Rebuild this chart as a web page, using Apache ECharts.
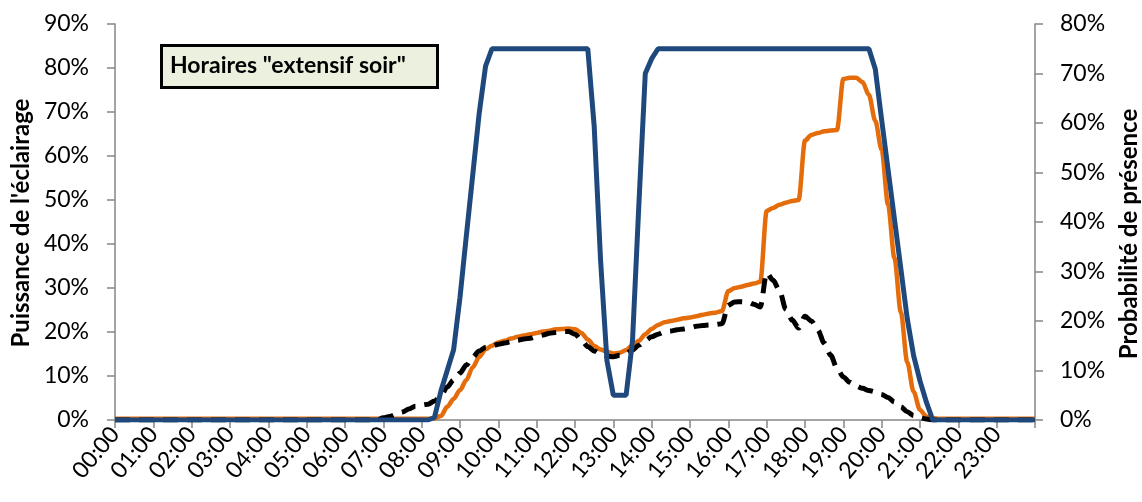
<!DOCTYPE html>
<html>
<head>
<meta charset="utf-8">
<script src="https://cdn.jsdelivr.net/npm/echarts@6/dist/echarts.min.js"></script>
<style>
html,body{margin:0;padding:0;background:#fff;}
#chart{width:1142px;height:502px;}
</style>
</head>
<body>
<div id="chart"></div>
<script>
// Time categories: 10-minute steps from 00:00 to 24:00
const categories = [];
for (let m = 0; m <= 1440; m += 10) {
  const h = Math.floor(m / 60), mm = m % 60;
  categories.push((h < 10 ? '0' : '') + h + ':' + (mm < 10 ? '0' : '') + mm);
}

const titleText = 'Horaires "extensif soir"';
const leftAxisName = "Puissance de l'éclairage";
const rightAxisName = "Probabilité de présence";
const leftTicks = [0, 10, 20, 30, 40, 50, 60, 70, 80, 90];
const rightTicks = [0, 10, 20, 30, 40, 50, 60, 70, 80];

// Lighting power (orange, left axis, %)
const orangeSeries = [
  0.3,0.3,0.3,0.3,0.3,0.3, 0.3,0.3,0.3,0.3,0.3,0.3, 0.3,0.3,0.3,0.3,0.3,0.3, 0.3,0.3,0.3,0.3,0.3,0.3,
  0.3,0.3,0.3,0.3,0.3,0.3, 0.3,0.3,0.3,0.3,0.3,0.3, 0.3,0.3,0.3,0.3,0.3,0.3, 0.3,0.3,0.3,0.3,0.3,0.3,
  0.3,0.3,0.4,0.9,3.0,4.8,
  6.8,9.1,12.0,14.3,16.1,16.9,
  17.6,18.0,18.5,18.9,19.2,19.5,
  19.8,20.1,20.3,20.6,20.7,20.8,
  20.6,19.8,18.3,16.9,16.0,15.5,
  15.1,15.3,15.9,17.0,18.0,19.5,
  20.7,21.6,22.2,22.5,22.8,23.1,
  23.3,23.6,23.9,24.2,24.4,24.8,
  29.3,30.0,30.3,30.7,31.0,31.4,
  47.5,48.2,48.9,49.4,49.8,50.0,
  63.5,64.8,65.2,65.6,65.8,65.9,
  77.5,77.8,77.8,76.8,73.9,68.0,
  61.4,48.9,36.8,24.5,13.2,6.4,
  2.3,0.8,0.4,0.3,0.3,0.3,
  0.3,0.3,0.3,0.3,0.3,0.3,
  0.3,0.3,0.3,0.3,0.3,0.3,
  0.3
];

// Presence probability (blue, right axis, %)
const blueSeries = [
  0,0,0,0,0,0, 0,0,0,0,0,0, 0,0,0,0,0,0, 0,0,0,0,0,0,
  0,0,0,0,0,0, 0,0,0,0,0,0, 0,0,0,0,0,0, 0,0,0,0,0,0,
  0,0,0.5,5.8,10.0,14.2,
  24.8,37.3,49.6,61.9,71.5,75,
  75,75,75,75,75,75,
  75,75,75,75,75,75,
  75,75,75,59.4,32.3,12.0,
  5,5,5,16.0,43.6,70.0,
  73.0,75,75,75,75,75,
  75,75,75,75,75,75,
  75,75,75,75,75,75,
  75,75,75,75,75,75,
  75,75,75,75,75,75,
  75,75,75,75,75,70.9,
  60.6,50.6,40.6,30.6,20.5,13.0,
  7.9,3.6,0,0,0,0,
  0,0,0,0,0,0,
  0,0,0,0,0,0,
  0
];

// Second lighting curve (black dashed, left axis, %)
const blackSeries = [
  0,0,0,0,0,0, 0,0,0,0,0,0, 0,0,0,0,0,0, 0,0,0,0,0,0,
  0,0,0,0,0,0, 0,0,0,0,0,0, 0,0,0,0,0,0,
  0.5,0.8,1.25,1.8,2.5,3.1,
  3.4,3.6,4.3,5.5,7.5,9.1,
  10.7,12.5,14.3,15.7,16.5,16.8,
  17.2,17.5,17.8,18.1,18.4,18.6,
  19.0,19.3,19.7,19.9,20.1,20.1,
  19.5,18.2,16.7,15.7,15.0,14.5,
  14.4,14.7,15.1,15.9,17.0,18.1,
  18.9,19.5,20.0,20.2,20.5,20.7,
  21.0,21.3,21.5,21.6,21.7,21.9,
  26.1,26.8,26.9,26.8,26.3,25.7,
  33.4,31.8,29.5,25.2,22.7,20.9,
  23.6,22.5,20.5,17.5,14.8,11.8,
  9.8,8.6,7.7,7.2,6.7,6.4,
  5.8,5.1,4.1,3.0,1.9,1.0,
  0.5,0.2,0,0,0,0,
  0,0,0,0,0,0,
  0,0,0,0,0,0,
  0
];

const FONT = 'Lato';
const axisGrey = '#868686';

const chart = echarts.init(document.getElementById('chart'), null, {renderer: 'canvas'});
chart.setOption({
  animation: false,
  backgroundColor: '#ffffff',
  grid: {left: 115, right: 107, top: 24, bottom: 82},
  xAxis: {
    type: 'category',
    data: categories,
    boundaryGap: false,
    axisLine: {show: true, lineStyle: {color: axisGrey, width: 1.5}},
    axisTick: {show: true, interval: 5, length: 8, lineStyle: {color: axisGrey, width: 1.5}},
    axisLabel: {
      interval: 5, rotate: 50, margin: 10,
      color: '#000', fontFamily: FONT, fontSize: 23,
      formatter: v => (v === '24:00' ? '' : v)
    },
    splitLine: {show: false}
  },
  yAxis: [
    {
      type: 'value', min: leftTicks[0], max: leftTicks[leftTicks.length - 1], interval: 10,
      position: 'left',
      axisLine: {show: true, lineStyle: {color: axisGrey, width: 1.5}},
      axisTick: {show: true, length: 8, lineStyle: {color: axisGrey, width: 1.5}},
      axisLabel: {margin: 26, color: '#000', fontFamily: FONT, fontSize: 23, formatter: '{value}%'},
      splitLine: {show: false}
    },
    {
      type: 'value', min: rightTicks[0], max: rightTicks[rightTicks.length - 1], interval: 10,
      position: 'right',
      axisLine: {show: true, lineStyle: {color: axisGrey, width: 1.5}},
      axisTick: {show: true, length: 8, lineStyle: {color: axisGrey, width: 1.5}},
      axisLabel: {margin: 25, color: '#000', fontFamily: FONT, fontSize: 23, formatter: '{value}%'},
      splitLine: {show: false}
    }
  ],
  series: [
    {
      name: 'Puissance', type: 'line', yAxisIndex: 0, data: orangeSeries,
      showSymbol: false, smooth: 0.3, smoothMonotone: 'x', z: 2,
      lineStyle: {color: '#E46C0A', width: 4.5}
    },
    {
      name: 'Puissance 2', type: 'line', yAxisIndex: 0, data: blackSeries,
      showSymbol: false, smooth: 0.3, smoothMonotone: 'x', z: 3,
      lineStyle: {color: '#000000', width: 5, type: [15, 9], cap: 'butt'}
    },
    {
      name: 'Présence', type: 'line', yAxisIndex: 1, data: blueSeries,
      showSymbol: false, smooth: false, z: 4,
      lineStyle: {color: '#1F497D', width: 5}
    }
  ],
  graphic: [
    {
      type: 'rect', left: 160, top: 44, z: 10,
      shape: {width: 276, height: 42},
      style: {fill: '#EBF1DE', stroke: '#000', lineWidth: 3}
    },
    {
      type: 'text', x: 170, y: 66, z: 11,
      style: {text: titleText, fill: '#000', font: 'bold 23px Lato', textAlign: 'left', textVerticalAlign: 'middle'}
    },
    {
      type: 'text', x: 21, y: 223, rotation: Math.PI / 2, z: 11,
      style: {text: leftAxisName, fill: '#000', font: 'bold 24px Lato', textAlign: 'center', textVerticalAlign: 'middle'}
    },
    {
      type: 'text', x: 1129, y: 234, rotation: Math.PI / 2, z: 11,
      style: {text: rightAxisName, fill: '#000', font: 'bold 24px Lato', textAlign: 'center', textVerticalAlign: 'middle'}
    }
  ]
});
</script>
</body>
</html>
